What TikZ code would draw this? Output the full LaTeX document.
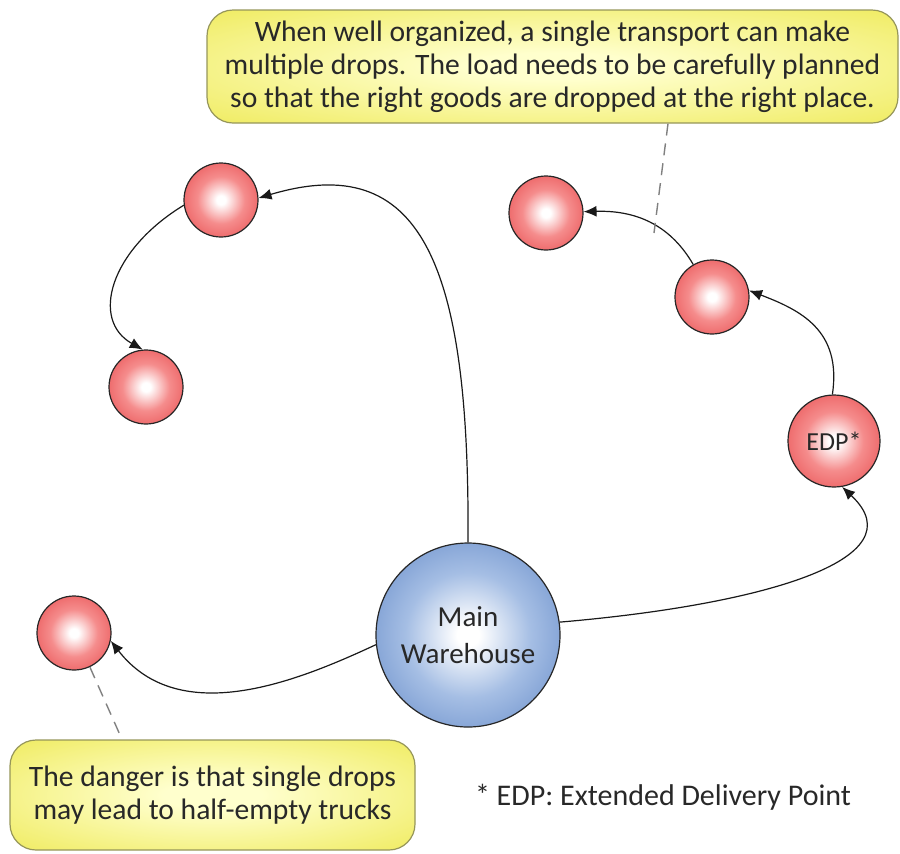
\documentclass[tikz,border=0pt]{standalone}
\usepackage{fontspec}
\setmainfont{Carlito}
\usetikzlibrary{arrows.meta}
\definecolor{redc}{RGB}{232,78,80}
\definecolor{redm}{RGB}{245,140,140}
\definecolor{bluec}{RGB}{100,138,200}
\definecolor{bluem}{RGB}{165,190,228}
\definecolor{yelc}{RGB}{240,236,100}
\definecolor{yelin}{RGB}{255,255,205}
\definecolor{txtc}{RGB}{40,40,40}
\definecolor{notedraw}{RGB}{150,150,90}
\pgfdeclareradialshading{redball}{\pgfpoint{0bp}{0bp}}{color(0bp)=(white); color(3bp)=(white); color(16bp)=(redm); color(34bp)=(redc); color(50bp)=(redc)}
\pgfdeclareradialshading{blueball}{\pgfpoint{0bp}{0bp}}{color(0bp)=(white); color(3bp)=(white); color(17bp)=(bluem); color(35bp)=(bluec); color(50bp)=(bluec)}
\pgfdeclareradialshading{yelnote}{\pgfpoint{0bp}{0bp}}{color(0bp)=(yelin); color(6bp)=(yelin); color(35bp)=(yelc); color(70bp)=(yelc)}
\begin{document}
\begin{tikzpicture}[x=0.5pt,y=-0.5pt,
  drop/.style={circle, draw=black!85, line width=0.6pt, minimum size=37pt, inner sep=0pt, shading=redball, text=txtc},
  hub/.style={circle, draw=black!85, line width=0.6pt, minimum size=92pt, inner sep=0pt, shading=blueball, text=txtc, align=center, font=\fontsize{14.5}{18.5}\selectfont},
  note/.style={rounded corners=13pt, draw=notedraw, line width=0.6pt, shading=yelnote, align=center, text=txtc, inner sep=0pt, font=\fontsize{14.8}{16.6}\selectfont},
  conn/.style={-{Latex[length=6.5pt,width=5.5pt]}, line width=0.6pt, draw=black!90},
  lead/.style={dash pattern=on 6pt off 4pt, draw=black!50, line width=0.7pt}]
\useasboundingbox (0,0) rectangle (900,853);

\node[note, minimum width=345.5pt, minimum height=56.5pt] (topnote) at (552.5,66.5)
  {When well organized, a single transport can make\\multiple drops. The load needs to be carefully planned\\so that the right goods are dropped at the right place.};
\node[note, minimum width=202.5pt, minimum height=55pt] (botnote) at (212.5,795)
  {The danger is that single drops\\may lead to half-empty trucks};

\node[drop] (A) at (221,200) {};
\node[drop] (B) at (146,387) {};
\node[drop] (C) at (546,213) {};
\node[drop] (D) at (712,297) {};
\node[drop, minimum size=46pt, font=\fontsize{13}{15}\selectfont] (E) at (834,441) {EDP*};
\node[drop] (F) at (74,633) {};
\node[hub] (M) at (468,635) {Main\\Warehouse};

\node[text=txtc, font=\fontsize{15}{17}\selectfont, anchor=center] (foot) at (663,797) {* EDP: Extended Delivery Point};

\draw[conn] (M.north) .. controls (470,260) and (420,150) .. (A.3);
\draw[conn] (A.188) .. controls (110,250) and (90,320) .. (B.95);
\draw[conn] (M.186) .. controls (300,680) and (180,730) .. (F.-12);
\draw[conn] (M.8) .. controls (760,605) and (920,560) .. (E.-80);
\draw[conn] (E.92) .. controls (842,330) and (800,310) .. (D.10);
\draw[conn] (D.120) .. controls (672,228) and (640,210) .. (C.2);

\coordinate (tl) at (654,233);
\draw[lead] (topnote.south -| 668,0) -- (tl);
\draw[lead] (F.-65) -- (botnote.north -| 122,0);
\end{tikzpicture}
\end{document}
